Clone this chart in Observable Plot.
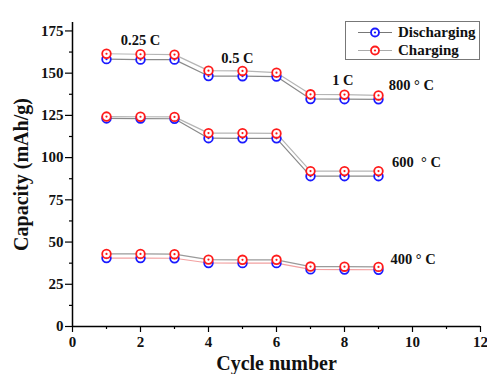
<!DOCTYPE html>
<html><head><meta charset="utf-8">
<script src="https://cdn.jsdelivr.net/npm/d3@7"></script>
<script src="https://cdn.jsdelivr.net/npm/@observablehq/plot@0.6"></script>
<style>
body{margin:0;background:#fff;}
#wrap{position:relative;width:487px;height:374px;}
#legend{position:absolute;left:345px;top:21px;width:135px;height:39px;border:1px solid #777;background:#fff;box-sizing:border-box;font-family:"Liberation Serif",serif;font-weight:bold;font-size:15px;z-index:2;}
.row{position:absolute;left:10px;height:17px;display:flex;align-items:center;color:#111;}
</style>
</head><body>
<div id="wrap"><div id="legend"></div></div>
<script>
const cycles = [1,2,3,4,5,6,7,8,9];
const charge800 = [161.5,161.2,161.0,151.5,151.3,150.3,137.5,137.3,136.8];
const discharge800 = [158.3,158.0,158.0,148.3,148.2,148.0,134.7,134.6,134.5];
const charge600 = [124.3,124.2,124.1,114.5,114.5,114.3,92.0,92.0,92.0];
const discharge600 = [123.2,123.1,123.0,111.5,111.4,111.4,89.0,89.0,89.0];
const charge400 = [43.0,43.0,42.8,39.6,39.5,39.5,35.5,35.4,35.3];
const discharge400 = [40.5,40.5,40.4,37.6,37.5,37.5,33.8,33.7,33.6];
const annoText = ["0.25 C","0.5 C","1 C","800 ° C","600  ° C","400 ° C"];
const annoX = [2.0,4.85,7.95,9.3,9.4,9.35];
const annoY = [169.5,158.5,145.5,142.5,97,39.5];
const annoAnchor = ["middle","middle","middle","start","start","start"];
const seriesNames = ["Discharging","Charging"];
const xTicks = [0,2,4,6,8,10,12];
const yTicks = [0,25,50,75,100,125,150,175];

const blue = "#1a1aff", red = "#ff1a1a";
const sets = [
  {vals: discharge800, color: blue, line: "#8a8a8a"},
  {vals: charge800, color: red, line: "#b5b5b5"},
  {vals: discharge600, color: blue, line: "#8a8a8a"},
  {vals: charge600, color: red, line: "#b5b5b5"},
  {vals: discharge400, color: blue, line: "#f2a0a0"},
  {vals: charge400, color: red, line: "#9a9a9a"},
];
const font = "Liberation Serif";
const marks = [];
marks.push(Plot.ruleX([0], {stroke: "#000", strokeWidth: 1.5}));
marks.push(Plot.ruleY([0], {stroke: "#000", strokeWidth: 1.5}));
for (const s of sets) {
  const data = cycles.map((c,i)=>({x:c, y:s.vals[i]}));
  marks.push(Plot.line(data, {x:"x", y:"y", stroke: s.line, strokeWidth: 1.2}));
}
for (const s of sets) {
  const data = cycles.map((c,i)=>({x:c, y:s.vals[i]}));
  marks.push(Plot.dot(data, {x:"x", y:"y", r: 4.3, stroke: s.color, fill:"#fff", strokeWidth: 1.8}));
  marks.push(Plot.dot(data, {x:"x", y:"y", r: 1.1, fill: s.color, stroke: "none"}));
}
const annos = annoText.map((t,i)=>({t, x: annoX[i], y: annoY[i], a: annoAnchor[i]}));
for (const anchor of ["middle","start"]) {
  marks.push(Plot.text(annos.filter(d=>d.a===anchor), {x:"x", y:"y", text:"t", textAnchor: anchor, fontSize: 14.5, fontWeight: "bold", fontFamily: font, fill:"#111"}));
}
const chart = Plot.plot({
  width: 487, height: 374,
  marginLeft: 72, marginRight: 7, marginTop: 22, marginBottom: 48,
  style: {fontFamily: font, background: "transparent", overflow: "visible"},
  x: {type: "linear", domain: [0,12], label: null},
  y: {type: "linear", domain: [0,180], label: null},
  marks: [
    ...marks,
    Plot.axisX({ticks: xTicks, tickSize: 6, tickPadding: 4, fontSize: 15, fontWeight: "bold", fontFamily: font, stroke:"#000", strokeWidth:1.2, fill:"#111", label: null}),
    Plot.axisX({ticks: d3.range(1,12,2), tickSize: 3, tickFormat: () => "", stroke:"#000", strokeWidth:1.2, label: null}),
    Plot.axisY({ticks: yTicks, tickSize: 7, tickPadding: 2, fontSize: 15, fontWeight: "bold", fontFamily: font, stroke:"#000", strokeWidth:1.2, fill:"#111", label: null}),
    Plot.axisY({ticks: d3.range(12.5,180,25), tickSize: 3, tickFormat: () => "", stroke:"#000", strokeWidth:1.2, label: null}),
    Plot.axisX({ticks: [], label: "Cycle number", labelAnchor: "center", labelArrow: "none", labelOffset: 43, fontSize: 20, fontWeight: "bold", fontFamily: font, fill:"#111"}),
    Plot.axisY({ticks: [], label: "Capacity (mAh/g)", labelAnchor: "center", labelArrow: "none", labelOffset: 59, fontSize: 20, fontWeight: "bold", fontFamily: font, fill:"#111"})
  ]
});
const wrap = document.getElementById("wrap");
wrap.insertBefore(chart, wrap.firstChild);
chart.style.position = "absolute"; chart.style.left = "0"; chart.style.top = "0";
// legend
const legend = d3.select("#legend");
const lcolors = [blue, red], llines = ["#777", "#aaa"];
seriesNames.forEach((name,i)=>{
  const row = legend.append("div").attr("class","row").style("top", (2 + i*18) + "px");
  const svg = row.append("svg").attr("width", 38).attr("height", 17);
  svg.append("line").attr("x1",2).attr("x2",36).attr("y1",8.5).attr("y2",8.5).attr("stroke", llines[i]).attr("stroke-width",1.2);
  svg.append("circle").attr("cx",19).attr("cy",8.5).attr("r",4).attr("fill","#fff").attr("stroke",lcolors[i]).attr("stroke-width",1.8);
  svg.append("circle").attr("cx",19).attr("cy",8.5).attr("r",1.1).attr("fill",lcolors[i]);
  row.append("span").text(name).style("margin-left","4px");
});
</script>
</body></html>
